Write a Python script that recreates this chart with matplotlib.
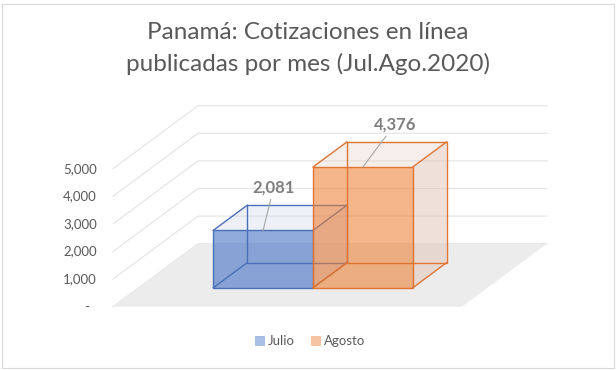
import matplotlib
matplotlib.use('Agg')
import matplotlib.pyplot as plt
from matplotlib.patches import Polygon, Rectangle, Patch

plt.rcParams['font.family'] = ['Lato', 'DejaVu Sans']

# data
meses = ['Julio', 'Agosto']
cotizaciones = [2081, 4376]
ticks = [0, 1000, 2000, 3000, 4000, 5000]
tick_labels = ['-  ', '1,000', '2,000', '3,000', '4,000', '5,000']
colores = ['#4472C4', '#ED7D31']
bordes = ['#4A70B8', '#E07432']
caras_sup = ['#C9D0E6', '#E2C9BC']   # light tint of top / side faces

# oblique "3d" layout: x in category units (floor front 0..1), y in value units
# full depth of the floor projects to (dxu, dyu)
px_w = 349.0          # floor width in pixels
px_per_unit = 0.0276  # pixels per unit of value
dxu = 85 / px_w
dyu = 63 / px_per_unit
fig_w, fig_h = 616, 370
x0_px, y0_px = 113, 306.7

fig = plt.figure(figsize=(6.16, 3.70), dpi=100)
ax = fig.add_axes([0, 0, 1, 1])
ax.set_xlim(-x0_px / px_w, (fig_w - x0_px) / px_w)
ax.set_ylim(-(fig_h - y0_px) / px_per_unit, y0_px / px_per_unit)
ax.axis('off')


def proj(x, v, d):
    return (x + d * dxu, v + d * dyu)


grid_c = '#E3E3E3'
for t in ticks:
    a = proj(0, t, 0)
    b = proj(0, t, 1)
    c = proj(1, t, 1)
    ax.plot([a[0], b[0], c[0]], [a[1], b[1], c[1]], color=grid_c, lw=0.8, zorder=1)

# floor
floor = [proj(0, 0, 0), proj(0, 0, 1), proj(1, 0, 1), proj(1, 0, 0)]
ax.add_patch(Polygon(floor, closed=True, facecolor='#ECECEC', edgecolor='none', zorder=2))

# bars (gap width 150%, gap depth 150%)
w = 1 / (len(meses) + 1.5)
d0, d1 = 0.3, 0.7
alpha_front = [0.6, 0.57]
for i, (val, col, ec, tint) in enumerate(zip(cotizaciones, colores, bordes, caras_sup)):
    xa = 0.75 * w + i * w
    xb = xa + w
    back = [proj(xa, 0, d1), proj(xb, 0, d1), proj(xb, val, d1), proj(xa, val, d1)]
    right = [proj(xb, 0, d0), proj(xb, 0, d1), proj(xb, val, d1), proj(xb, val, d0)]
    top = [proj(xa, val, d0), proj(xb, val, d0), proj(xb, val, d1), proj(xa, val, d1)]
    front = [proj(xa, 0, d0), proj(xb, 0, d0), proj(xb, val, d0), proj(xa, val, d0)]
    z = 3 + i * 2
    ax.add_patch(Polygon(right, closed=True, facecolor=tint, alpha=0.55,
                         edgecolor='none', zorder=z))
    ax.add_patch(Polygon(top, closed=True, facecolor=tint, alpha=0.3,
                         edgecolor='none', zorder=z))
    ax.add_patch(Polygon(front, closed=True, facecolor=col, alpha=alpha_front[i],
                         edgecolor='none', zorder=z + 0.5))
    # all twelve edges
    for face in [back, front]:
        ax.add_patch(Polygon(face, closed=True, fill=False, edgecolor=ec,
                             lw=1.0, zorder=z + 0.6))
    for xs in [xa, xb]:
        for vs in [0, val]:
            p, q = proj(xs, vs, d0), proj(xs, vs, d1)
            ax.plot([p[0], q[0]], [p[1], q[1]], color=ec, lw=1.0, zorder=z + 0.6)

# data labels with leader lines
offsets = [(10.5, 43), (32, 42.7)]
for i, val in enumerate(cotizaciones):
    xc = 0.75 * w + i * w + w / 2
    ax.annotate(f'{val:,}', xy=proj(xc, val, d0), xytext=offsets[i],
                textcoords='offset pixels', ha='center', va='center',
                fontsize=12, fontweight='bold', color='#7F7F7F',
                arrowprops=dict(arrowstyle='-', color='#A6A6A6', lw=0.8,
                                shrinkA=1, shrinkB=0), zorder=10)

# value axis labels
for t, lab in zip(ticks, tick_labels):
    ax.text(-16 / px_w, t, lab, ha='right', va='center', fontsize=9.5,
            color='#595959')

fig.text(0.5, 1 - 48.5 / fig_h,
         'Panamá: Cotizaciones en línea\npublicadas por mes (Jul.Ago.2020)',
         ha='center', va='center', fontsize=17.5, color='#595959',
         linespacing=1.55)

handles = [Patch(facecolor=c, alpha=0.45, edgecolor=c, lw=0.5) for c in colores]
fig.legend(handles, meses, loc='center', bbox_to_anchor=(310 / fig_w, 1 - 341 / fig_h),
           ncol=2, frameon=False, fontsize=9.5, labelcolor='#595959',
           handlelength=0.7, handleheight=0.7, handletextpad=0.3, columnspacing=1.2)

fig.add_artist(Rectangle((2.5 / fig_w, 2.5 / fig_h), 611 / fig_w, 364 / fig_h,
                         transform=fig.transFigure, fill=False,
                         edgecolor='#D9D9D9', lw=0.8))

fig.savefig('out.png', dpi=100)
